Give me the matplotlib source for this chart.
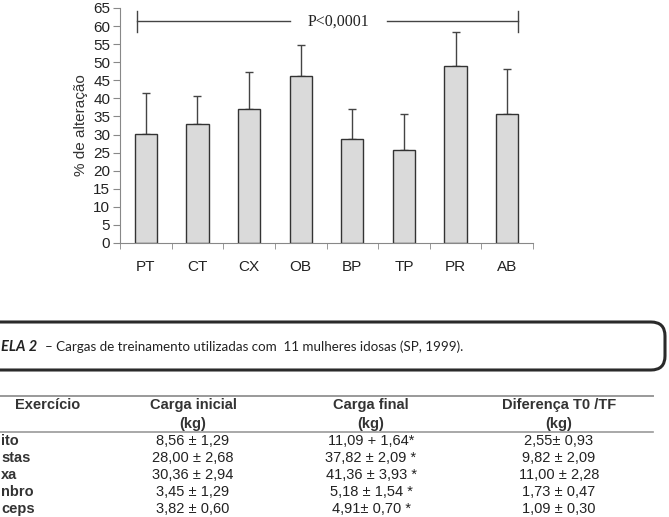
import matplotlib
import numpy as np
import matplotlib.pyplot as plt
from matplotlib.patches import FancyBboxPatch

matplotlib.use('Agg')

# dados do gráfico
grupos = ['PT', 'CT', 'CX', 'OB', 'BP', 'TP', 'PR', 'AB']
media = [30.1, 32.9, 37.0, 46.1, 28.8, 25.7, 48.9, 35.8]
desvio = [11.4, 7.8, 10.3, 8.6, 8.2, 10.1, 9.5, 12.3]

# dados da tabela (só a parte visível na imagem)
exercicios = ['ito', 'stas', 'xa', 'nbro', 'ceps']
carga_inicial = ['8,56 ± 1,29', '28,00 ± 2,68', '30,36 ± 2,94', '3,45 ± 1,29', '3,82 ± 0,60']
carga_final = ['11,09 + 1,64*', '37,82 ± 2,09 *', '41,36 ± 3,93 *', '5,18 ± 1,54 *', '4,91± 0,70 *']
diferenca = ['2,55± 0,93', '9,82 ± 2,09', '11,00 ± 2,28', '1,73 ± 0,47', '1,09 ± 0,30']

plt.rcParams['font.family'] = ['Liberation Sans', 'DejaVu Sans']

fig = plt.figure(figsize=(6.69, 5.17), dpi=100)
W, H = 669, 517

ax = fig.add_axes([120 / W, 1 - 243 / H, 413 / W, 235 / H])
x = np.arange(len(grupos))
ax.bar(x, media, width=0.43, color='#dadada', edgecolor='#333333', linewidth=1.0, zorder=2)
ax.errorbar(x, media, yerr=[np.zeros(len(desvio)), desvio], fmt='none',
            ecolor='#444444', elinewidth=1.0, capsize=2.7, capthick=1.0, zorder=1)
ax.set_xlim(-0.5, 7.5)
ax.set_ylim(0, 65)
ax.set_yticks(np.arange(0, 66, 5))
ax.set_xticks(x)
ax.set_xticklabels(grupos)
ax.set_xticks(np.arange(-0.5, 8, 1), minor=True)
ax.tick_params(axis='x', which='major', length=0, pad=12, labelsize=11, colors='#222222')
ax.tick_params(axis='x', which='minor', length=4, color='#888888', direction='out')
ax.tick_params(axis='y', length=5, color='#888888', labelsize=11, colors='#222222', pad=2)
for lado in ['top', 'right']:
    ax.spines[lado].set_visible(False)
for lado in ['left', 'bottom']:
    ax.spines[lado].set_color('#888888')
ax.set_ylabel('% de alteração', fontsize=11, color='#333333', labelpad=4)

# linha de significância
y_p = 61.3
ax.plot([-0.17, 2.8], [y_p, y_p], color='#444444', lw=1.0, clip_on=False)
ax.plot([4.68, 7.2], [y_p, y_p], color='#444444', lw=1.0, clip_on=False)
ax.plot([-0.17, -0.17], [58.4, 64.1], color='#444444', lw=1.0, clip_on=False)
ax.plot([7.2, 7.2], [58.4, 64.1], color='#444444', lw=1.0, clip_on=False)
ax.text(3.74, y_p, 'P<0,0001', ha='center', va='center', fontsize=11.5,
        family='Liberation Serif', color='#222222')

# parte de baixo: legenda da tabela e tabela
ov = fig.add_axes([0, 0, 1, 1])
ov.set_xlim(0, W)
ov.set_ylim(H, 0)
ov.axis('off')

caixa = FancyBboxPatch((-40, 322), 705, 48, boxstyle='round,pad=0,rounding_size=14',
                       fc='none', ec='#2a2a2a', lw=2.2, clip_on=False)
ov.add_patch(caixa)
ov.text(1, 347, 'ELA 2', fontsize=10.5, fontweight='bold', style='italic',
        family='Lato', color='#222222', va='center', ha='left')
ov.text(45, 347, '– Cargas de treinamento utilizadas com  11 mulheres idosas (SP, 1999).',
        fontsize=9.6, family='Lato', color='#222222', va='center', ha='left')

ov.plot([0, 653], [396, 396], color='#999999', lw=1.4)
ov.plot([0, 653], [432, 432], color='#999999', lw=1.2)

cab_cor = '#333333'
ov.text(48, 405, 'Exercício', fontsize=10.5, fontweight='bold', color=cab_cor, ha='center', va='center')
ov.text(193, 405, 'Carga inicial', fontsize=10.5, fontweight='bold', color=cab_cor, ha='center', va='center')
ov.text(193, 424, '(kg)', fontsize=10.5, fontweight='bold', color=cab_cor, ha='center', va='center')
ov.text(371, 405, 'Carga final', fontsize=10.5, fontweight='bold', color=cab_cor, ha='center', va='center')
ov.text(371, 424, '(kg)', fontsize=10.5, fontweight='bold', color=cab_cor, ha='center', va='center')
ov.text(559, 405, 'Diferença T0 /TF', fontsize=10.5, fontweight='bold', color=cab_cor, ha='center', va='center')
ov.text(559, 424, '(kg)', fontsize=10.5, fontweight='bold', color=cab_cor, ha='center', va='center')

linhas_y = [441, 458, 475, 492, 509]
for i, yy in enumerate(linhas_y):
    ov.text(1, yy, exercicios[i], fontsize=10.5, fontweight='bold', color=cab_cor, ha='left', va='center')
    ov.text(193, yy, carga_inicial[i], fontsize=10.5, color='#222222', ha='center', va='center')
    ov.text(371, yy, carga_final[i], fontsize=10.5, color='#222222', ha='center', va='center')
    ov.text(559, yy, diferenca[i], fontsize=10.5, color='#222222', ha='center', va='center')

fig.savefig('out.png', dpi=100)
